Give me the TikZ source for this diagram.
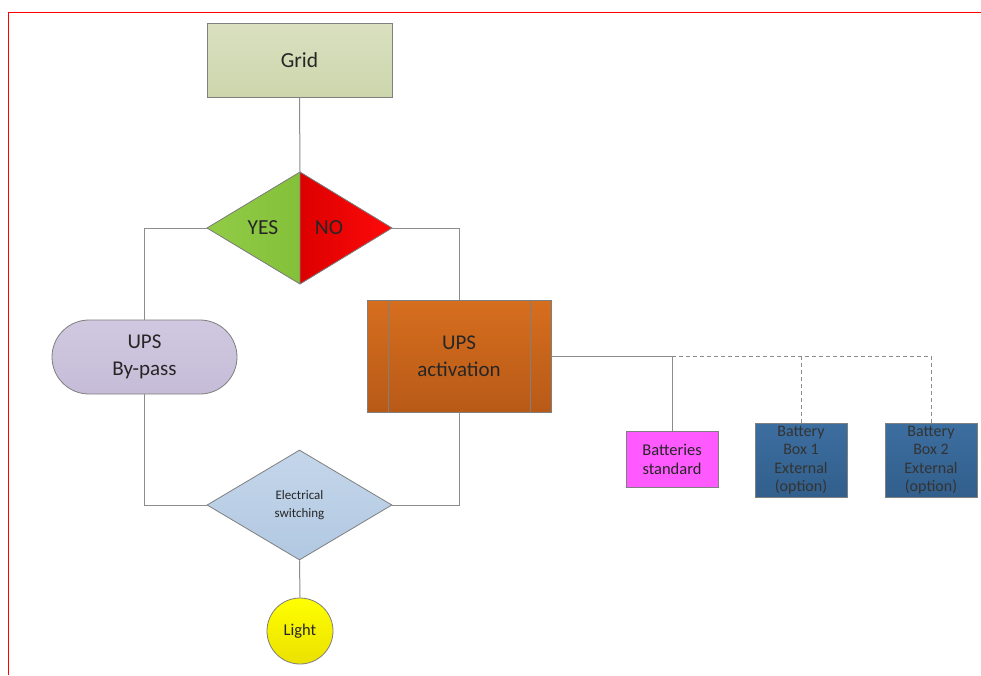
\documentclass[tikz,border=0pt]{standalone}
\usepackage{fontspec}
\setmainfont{Carlito}
\usetikzlibrary{shapes.geometric,shapes.misc}
\definecolor{lnc}{HTML}{8C8C8C}
\definecolor{bord}{HTML}{7F7F7F}
\begin{document}
\begin{tikzpicture}[x=1pt,y=-1pt,
  conn/.style={draw=lnc,line width=1pt},
  optconn/.style={draw=lnc,line width=1pt,dashed,dash pattern=on 4pt off 3pt},
  boxbase/.style={draw=bord,line width=0.8pt,align=center,inner sep=0pt,text=black!85},
  ]
\useasboundingbox (0,0) rectangle (981,675);
\fill[white] (0,0) rectangle (981,675);
% frame
\draw[red,line width=1pt] (8.5,675) -- (8.5,12.5) -- (981,12.5);

% Grid
\node[boxbase,minimum width=185pt,minimum height=74pt,top color={rgb,255:red,218;green,224;blue,192},bottom color={rgb,255:red,204;green,214;blue,172},font=\fontsize{21.5}{24}\selectfont] (grid) at (299.5,60) {Grid};

% YES/NO diamond
\coordinate (dt) at (300,172);
\coordinate (dl) at (207,228);
\coordinate (dr) at (392,228);
\coordinate (db) at (300,284);
\fill[left color={rgb,255:red,146;green,204;blue,70},right color={rgb,255:red,132;green,192;blue,58}] (dt) -- (dl) -- (db) -- cycle;
\fill[left color={rgb,255:red,220;green,0;blue,0},right color={rgb,255:red,255;green,10;blue,10}] (dt) -- (dr) -- (db) -- cycle;
\draw[bord,line width=0.8pt] (dt) -- (dl) -- (db) -- (dr) -- cycle (dt) -- (db);
\node[font=\fontsize{21.5}{24}\selectfont,text=black!85] (yes) at (263,228) {YES};
\node[font=\fontsize{21.5}{24}\selectfont,text=black!85] (no) at (329,228) {NO};

% UPS By-pass
\node[boxbase,rounded rectangle,minimum width=185pt,minimum height=74pt,top color={rgb,255:red,208;green,200;blue,224},bottom color={rgb,255:red,198;green,188;blue,216},font=\fontsize{21}{27}\selectfont] (bypass) at (144.5,357) {UPS\\By-pass};

% UPS activation
\node[boxbase,minimum width=184pt,minimum height=112pt,top color={rgb,255:red,214;green,110;blue,30},bottom color={rgb,255:red,184;green,90;blue,24},font=\fontsize{21}{27}\selectfont] (act) at (459,356) {UPS\\activation};
\draw[bord,line width=0.8pt] ([xshift=22pt]act.north west) -- ([xshift=22pt]act.south west);
\draw[bord,line width=0.8pt] ([xshift=-21pt]act.north east) -- ([xshift=-21pt]act.south east);

% batteries
\node[boxbase,minimum width=92pt,minimum height=56pt,fill={rgb,255:red,255;green,90;blue,255},font=\fontsize{16.5}{19}\selectfont] (bstd) at (672,459) {Batteries\\standard};
\node[boxbase,minimum width=92pt,minimum height=74pt,top color={rgb,255:red,60;green,110;blue,160},bottom color={rgb,255:red,50;green,95;blue,140},font=\fontsize{16}{18.5}\selectfont,text=black!80] (bb1) at (801,460) {Battery\\Box 1\\External\\(option)};
\node[boxbase,minimum width=92pt,minimum height=74pt,top color={rgb,255:red,60;green,110;blue,160},bottom color={rgb,255:red,50;green,95;blue,140},font=\fontsize{16}{18.5}\selectfont,text=black!80] (bb2) at (931,460) {Battery\\Box 2\\External\\(option)};

% Electrical switching
\node[boxbase,diamond,aspect=1.68,minimum width=185pt,minimum height=110pt,top color={rgb,255:red,196;green,214;blue,234},bottom color={rgb,255:red,178;green,200;blue,226},font=\fontsize{13}{18}\selectfont] (sw) at (299.5,505) {Electrical\\switching};

% Light
\node[boxbase,circle,minimum size=66pt,top color={rgb,255:red,255;green,255;blue,0},bottom color={rgb,255:red,235;green,225;blue,0},font=\fontsize{16.5}{19}\selectfont] (light) at (300,631) {Light};

% connectors
\draw[conn] (grid.south) -- (dt);
\draw[conn] (dl) -| (bypass.north);
\draw[conn] (dr) -| (act.north);
\draw[conn] (bypass.south) |- (sw.west);
\draw[conn] (act.south) |- (sw.east);
\draw[conn] (sw.south) -- (light.north);
\coordinate (j1) at (672,356);
\coordinate (j2) at (801,356);
\coordinate (j3) at (931,356);
\draw[conn] (act.east) -- (j1) -- (bstd.north);
\draw[optconn] (j1) -- (j3) -- (bb2.north);
\draw[optconn] (j2) -- (bb1.north);
\end{tikzpicture}
\end{document}
